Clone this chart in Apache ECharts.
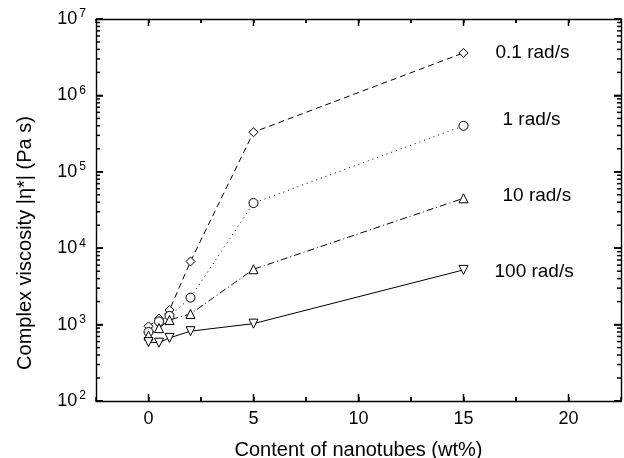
<!DOCTYPE html>
<html>
<head>
<meta charset="utf-8">
<script src="https://cdn.jsdelivr.net/npm/echarts@6/dist/echarts.min.js"></script>
<style>
  html, body { margin: 0; padding: 0; background: #fff; }
  #chart { width: 624px; height: 458px; }
</style>
</head>
<body>
<div id="chart"></div>
<script>
// nanotube content (wt%)
var content = [0, 0.5, 1, 2, 5, 15];
// complex viscosity |eta*| (Pa s) at each frequency
var visc01 = [950, 1200, 1550, 6700, 330000, 3600000];
var visc1 = [800, 1100, 1300, 2250, 39000, 400000];
var visc10 = [720, 900, 1150, 1380, 5300, 45000];
var visc100 = [590, 580, 670, 820, 1030, 5200];
var seriesNames = ['0.1 rad/s', '1 rad/s', '10 rad/s', '100 rad/s'];

// tick positions
var xMajor = [0, 5, 10, 15, 20];
var xMinor = [2.5, 7.5, 12.5, 17.5];
var yMajor = [1e2, 1e3, 1e4, 1e5, 1e6, 1e7];
var yMinor = [];
for (var d = 2; d < 7; d++) {
  for (var m = 2; m <= 9; m++) yMinor.push(m * Math.pow(10, d));
}

var X_MIN = -2.5, X_MAX = 22.5, Y_MIN = 100, Y_MAX = 1e7;
var FONT = 'Liberation Sans, Arial, sans-serif';
var black = '#000';

function pairs(ys) {
  return content.map(function (x, i) { return [x, ys[i]]; });
}

// inward ticks on all four sides: [x, y, direction, length]
// direction 0 = up, 1 = down, 2 = right, 3 = left
var tickData = [];
xMajor.forEach(function (v) { tickData.push([v, Y_MIN, 0, 7], [v, Y_MAX, 1, 7]); });
xMinor.forEach(function (v) { tickData.push([v, Y_MIN, 0, 4], [v, Y_MAX, 1, 4]); });
yMajor.forEach(function (v) { tickData.push([X_MIN, v, 2, 7], [X_MAX, v, 3, 7]); });
yMinor.forEach(function (v) { tickData.push([X_MIN, v, 2, 4], [X_MAX, v, 3, 4]); });

function xAx(pos, labels) {
  return {
    type: 'value', position: pos, min: X_MIN, max: X_MAX, interval: 2.5,
    axisLine: { show: true, onZero: false, lineStyle: { color: black, width: 1.4 } },
    axisTick: { show: true, inside: true, length: 4, lineStyle: { color: black, width: 1.5 } },
    axisLabel: labels ? {
      show: true, color: black, fontSize: 18, fontFamily: FONT, margin: 9,
      formatter: function (v) { return xMajor.indexOf(v) >= 0 ? String(v) : ''; }
    } : { show: false },
    splitLine: { show: false },
    name: labels ? 'Content of nanotubes (wt%)' : '',
    nameLocation: 'middle', nameGap: 39,
    nameTextStyle: { color: black, fontSize: 20, fontFamily: FONT }
  };
}

function yAx(pos, labels) {
  return {
    type: 'log', position: pos, min: Y_MIN, max: Y_MAX, logBase: 10,
    axisLine: { show: true, onZero: false, lineStyle: { color: black, width: 1.4 } },
    axisTick: { show: true, inside: true, length: 7, lineStyle: { color: black, width: 1.5 } },
    axisLabel: labels ? {
      show: true, customValues: yMajor, color: black, fontSize: 18, fontFamily: FONT, margin: 10,
      formatter: function (v) { return '10{s|' + Math.round(Math.log10(v)) + '}'; },
      rich: { s: { fontSize: 12, fontFamily: FONT, color: black, verticalAlign: 'top', padding: [0, 0, 10, 2] } }
    } : { show: false },
    splitLine: { show: false },
    name: labels ? 'Complex viscosity |\u03b7*| (Pa s)' : '',
    nameLocation: 'middle', nameGap: 61,
    nameTextStyle: { color: black, fontSize: 20, fontFamily: FONT, padding: [0, 66, 0, 0] }
  };
}

function line(name, ys, symbol, rotate, dash, labelDist, labelOff) {
  return {
    name: name, type: 'line',
    data: pairs(ys),
    symbol: symbol, symbolSize: 9, symbolRotate: rotate,
    itemStyle: { color: '#fff', borderColor: black, borderWidth: 1 },
    lineStyle: { color: black, width: 1, type: dash },
    endLabel: {
      show: true, formatter: name, distance: labelDist, offset: labelOff,
      color: black, fontSize: 19, fontFamily: FONT
    }
  };
}

var tickSeries = {
  type: 'custom', clip: false,
  encode: { x: 0, y: 1 },
  data: tickData,
  renderItem: function (params, api) {
    var p = api.coord([api.value(0), api.value(1)]);
    var dir = api.value(2), len = api.value(3);
    var dx = dir === 2 ? len : (dir === 3 ? -len : 0);
    var dy = dir === 0 ? -len : (dir === 1 ? len : 0);
    return {
      type: 'line',
      shape: { x1: p[0], y1: p[1], x2: p[0] + dx, y2: p[1] + dy },
      style: { stroke: black, lineWidth: 1.5 }
    };
  }
};

var chart = echarts.init(document.getElementById('chart'));
chart.setOption({
  backgroundColor: '#fff',
  animation: false,
  grid: { left: 96, top: 19, right: 3, bottom: 57, containLabel: false, outerBoundsMode: 'none' },
  xAxis: [xAx('bottom', true), xAx('top', false)],
  yAxis: [yAx('left', true), yAx('right', false)],
  series: [
    tickSeries,
    line(seriesNames[0], visc01, 'diamond', 0, [6, 4], 32, [0, 0]),
    line(seriesNames[1], visc1, 'circle', 0, [1, 4], 39, [0, -6]),
    line(seriesNames[2], visc10, 'triangle', 0, [7, 3, 1, 3], 39, [0, -3]),
    line(seriesNames[3], visc100, 'triangle', 180, 'solid', 31, [0, 2])
  ]
});
</script>
</body>
</html>
